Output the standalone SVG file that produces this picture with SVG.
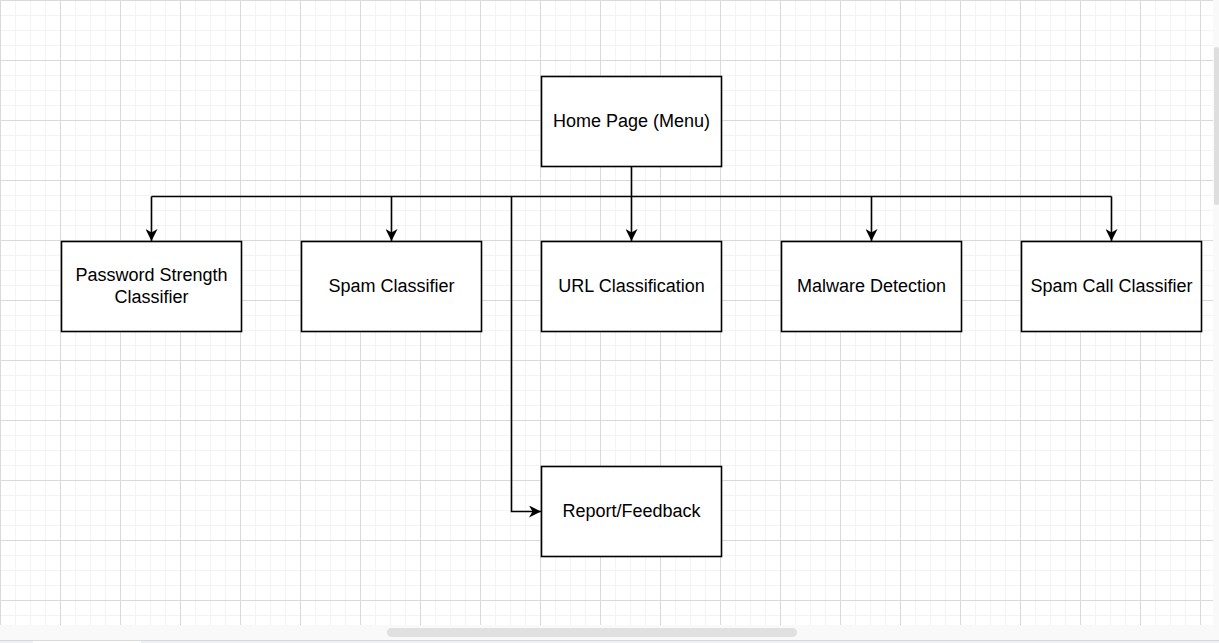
<svg xmlns="http://www.w3.org/2000/svg" width="1219" height="643" viewBox="0 0 1219 643">
<defs>
<pattern id="minor" width="15" height="15" patternUnits="userSpaceOnUse">
<path d="M0.5 0V15M0 0.5H15" stroke="#f3f3f3" stroke-width="1" fill="none"/>
</pattern>
<pattern id="major" width="60" height="60" patternUnits="userSpaceOnUse">
<path d="M0.5 0V60M0 0.5H60" stroke="#d9d9d9" stroke-width="1" fill="none"/>
</pattern>
<marker id="arr" viewBox="0 0 12 12" refX="12" refY="6" markerWidth="12" markerHeight="12" markerUnits="userSpaceOnUse" orient="auto">
<path d="M0 0L12 6L0 12L3.5 6Z" fill="#000"/>
</marker>
<style>
.box{fill:#fff;stroke:#000;stroke-width:1.6}
.lbl{font-family:"Liberation Sans",Arial,sans-serif;font-size:18px;fill:#000;text-anchor:middle;dominant-baseline:central}
.edge{fill:none;stroke:#000;stroke-width:1.6}
</style>
</defs>
<rect width="1219" height="643" fill="#fff"/>
<rect x="0" y="0" width="1213" height="625" fill="url(#minor)"/>
<rect x="0" y="0" width="1213" height="625" fill="url(#major)"/>
<rect x="0" y="625" width="1219" height="15" fill="#f9f9f9"/>
<rect x="387" y="628" width="410" height="9" rx="4.5" fill="#e0e0e0"/>
<rect x="0" y="640" width="1219" height="3" fill="#eef0f3"/>
<path d="M0 640.5H1219" stroke="#d6d9dd" stroke-width="1"/>
<rect x="33" y="641" width="108" height="2" fill="#fff"/>
<rect x="1213" y="0" width="6" height="625" fill="#f9f9f9"/>
<rect x="1214" y="47" width="5" height="158" rx="2.5" fill="#dedede"/>

<g id="connectors">
<path class="edge" d="M631.5 166V196.5"/>
<path class="edge" d="M151.5 196.5H1111.5"/>
<path class="edge" d="M151.5 196.5V241" marker-end="url(#arr)"/>
<path class="edge" d="M391.5 196.5V241" marker-end="url(#arr)"/>
<path class="edge" d="M631.5 196.5V241" marker-end="url(#arr)"/>
<path class="edge" d="M871.5 196.5V241" marker-end="url(#arr)"/>
<path class="edge" d="M1111.5 196.5V241" marker-end="url(#arr)"/>
<path class="edge" d="M511.5 196.5V511.5H541" marker-end="url(#arr)"/>
</g>

<g id="home"><rect class="box" x="541.5" y="76.5" width="180" height="90"/><text class="lbl" x="631.5" y="121">Home Page (Menu)</text></g>
<g id="password"><rect class="box" x="61.5" y="241.5" width="180" height="90"/><text class="lbl" x="151.5" y="274.5">Password Strength</text><text class="lbl" x="151.5" y="296.5">Classifier</text></g>
<g id="spam"><rect class="box" x="301.5" y="241.5" width="180" height="90"/><text class="lbl" x="391.5" y="286">Spam Classifier</text></g>
<g id="url"><rect class="box" x="541.5" y="241.5" width="180" height="90"/><text class="lbl" x="631.5" y="286">URL Classification</text></g>
<g id="malware"><rect class="box" x="781.5" y="241.5" width="180" height="90"/><text class="lbl" x="871.5" y="286">Malware Detection</text></g>
<g id="spamcall"><rect class="box" x="1021.5" y="241.5" width="180" height="90"/><text class="lbl" x="1111.5" y="286">Spam Call Classifier</text></g>
<g id="report"><rect class="box" x="541.5" y="466.5" width="180" height="90"/><text class="lbl" x="631.5" y="511">Report/Feedback</text></g>
</svg>
